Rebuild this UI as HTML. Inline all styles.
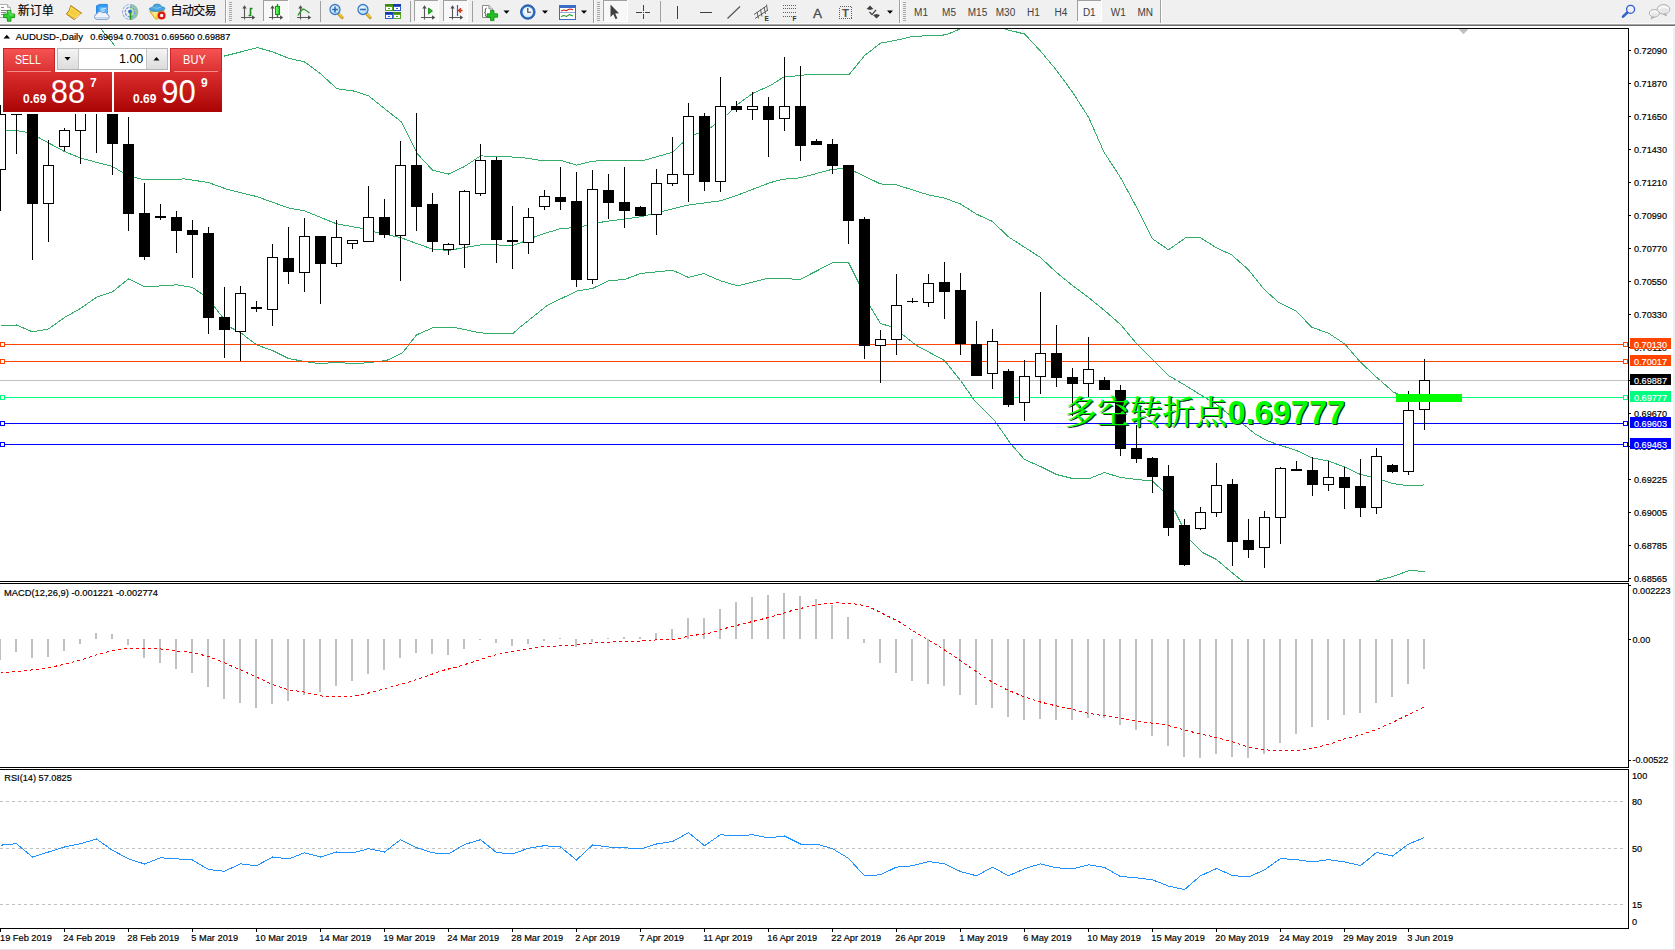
<!DOCTYPE html>
<html lang="zh"><head><meta charset="utf-8"><title>AUDUSD-,Daily</title>
<style>html,body{margin:0;padding:0;background:#fff;overflow:hidden}body{width:1675px;height:950px}svg{display:block}text{font-family:"Liberation Sans", "Noto Sans CJK SC", sans-serif}.s{font-size:9.5px;fill:#000;stroke:#000;stroke-width:0.18px}.w{font-size:9.5px;fill:#fff;stroke:#fff;stroke-width:0.15px}.cr{shape-rendering:crispEdges}</style></head><body>
<svg width="1675" height="950" viewBox="0 0 1675 950">
<defs><linearGradient id="gr" x1="0" y1="0" x2="0" y2="1"><stop offset="0" stop-color="#f75454"/><stop offset="1" stop-color="#d93030"/></linearGradient><linearGradient id="gr2" x1="0" y1="0" x2="0" y2="1"><stop offset="0" stop-color="#dc2e2e"/><stop offset="1" stop-color="#aa0404"/></linearGradient><linearGradient id="gb" x1="0" y1="0" x2="0" y2="1"><stop offset="0" stop-color="#f4f4f4"/><stop offset="1" stop-color="#dcdcdc"/></linearGradient><linearGradient id="gcan" x1="0" y1="0" x2="1" y2="0"><stop offset="0" stop-color="#7dff7d"/><stop offset="1" stop-color="#18d018"/></linearGradient><radialGradient id="glens" cx="0.4" cy="0.35" r="0.7"><stop offset="0" stop-color="#f4fbff"/><stop offset="1" stop-color="#a8d4f4"/></radialGradient><radialGradient id="gclk" cx="0.5" cy="0.4" r="0.6"><stop offset="0" stop-color="#ffffff"/><stop offset="1" stop-color="#d8e8f8"/></radialGradient></defs>
<rect width="1675" height="950" fill="#fff"/>
<g class="cr" fill="none" stroke-width="1">
<g clip-path="none">
<polyline points="96.5,22.5 100.5,28.5 115.5,46.5 130.5,70.5" stroke="#33ad69" />
<polyline points="216.5,58.0 224.5,56.0 240.5,52.0 257.5,47.6 273.0,52.0 288.5,58.2 304.5,61.9 320.5,73.7 337.0,88.8 353.5,91.0 368.5,95.8 385.0,109.0 401.5,122.0 417.5,154.0 432.5,170.1 448.5,174.0 464.5,166.5 480.5,155.9 497.5,156.5 520.5,157.3 544.5,161.0 560.5,160.3 576.5,165.1 592.5,161.1 614.5,160.5 641.5,161.0 672.5,152.3 684.5,141.0 691.5,134.7 699.5,133.5 710.5,127.9 726.5,115.5 737.5,104.5 752.5,93.5 770.5,85.5 783.5,77.1 794.5,76.1 812.5,74.1 826.5,74.9 848.9,74.9 864.8,55.3 880.7,43.1 896.5,40.2 912.5,36.5 928.5,35.7 945.9,34.9 959.3,29.3 964.5,27.0" stroke="#33ad69" />
<polyline points="999.5,27.0 1005.4,29.3 1024.6,34.0 1040.5,51.1 1056.5,70.3 1072.5,92.1 1088.5,117.2 1104.1,152.3 1120.5,177.5 1136.5,207.2 1152.5,238.8 1168.5,249.8 1185.5,237.8 1200.5,237.8 1216.5,247.8 1231.5,254.8 1248.5,269.8 1264.5,289.8 1278.5,302.2 1296.5,311.2 1311.5,327.2 1328.5,333.2 1344.5,343.8 1360.5,362.2 1376.5,377.2 1393.5,392.2 1408.5,398.5 1424.5,399.5" stroke="#33ad69" />
<polyline points="0.5,130.5 18.5,130.9 27.5,132.5 38.5,137.5 64.5,151.5 80.5,158.1 112.5,166.5 122.5,172.5 134.5,177.5 144.5,179.9 168.5,179.5 184.5,178.9 208.5,182.5 226.5,189.1 256.5,196.5 288.5,207.9 304.5,210.9 336.5,223.8 362.5,228.5 378.5,232.9 400.5,237.5 416.5,243.5 432.5,249.1 448.5,250.5 464.5,247.5 480.5,244.9 496.5,244.9 512.5,245.5 520.5,242.8 537.5,235.8 560.5,228.5 577.5,227.5 603.5,221.8 640.5,216.8 667.5,210.2 687.5,205.2 720.5,200.8 737.5,195.2 770.5,182.5 783.5,179.2 800.5,177.8 832.5,169.2 848.5,168.5 854.5,171.5 880.5,183.9 896.5,184.9 928.5,194.9 944.5,198.1 960.5,204.0 976.5,214.1 992.5,221.5 1008.5,236.9 1040.5,257.5 1056.5,272.5 1072.5,285.5 1088.5,297.5 1104.5,310.5 1120.5,324.5 1136.5,343.5 1152.5,359.5 1168.5,375.5 1185.5,385.5 1200.5,394.8 1216.5,404.5 1231.5,416.5 1242.5,423.5 1254.5,433.5 1266.5,440.5 1278.5,444.8 1296.5,450.5 1312.5,458.0 1328.5,461.0 1344.5,467.0 1360.5,474.5 1370.5,476.9 1382.5,480.1 1392.5,483.5 1408.5,485.9 1424.5,484.9" stroke="#33ad69" />
<polyline points="0.5,325.8 8.5,325.8 16.5,325.0 32.5,331.9 48.5,328.9 64.5,317.5 80.5,308.5 96.5,297.2 112.5,291.8 128.5,278.9 144.5,286.8 160.5,285.9 176.5,284.8 192.5,287.5 203.5,295.0 214.5,306.9 230.5,327.5 240.5,332.5 256.5,344.9 272.5,350.5 288.5,358.5 304.5,361.5 320.5,363.9 336.5,362.1 352.5,363.9 370.5,362.5 386.5,360.5 402.5,352.9 416.5,334.9 432.5,327.9 456.5,327.9 478.5,332.5 490.5,333.9 512.5,333.9 520.5,326.8 547.5,305.2 577.5,290.8 592.5,288.5 608.5,280.8 624.5,279.5 640.5,273.5 672.5,270.2 688.5,277.5 703.5,273.5 720.5,280.8 737.5,285.8 767.5,278.5 800.5,279.2 832.5,262.8 848.5,262.5 859.5,284.5 870.5,307.0 880.5,323.5 890.5,326.5 902.5,334.5 916.5,345.5 944.5,360.5 960.5,380.5 974.5,400.5 994.5,420.5 1010.5,443.5 1024.5,459.5 1040.5,466.5 1056.5,474.5 1072.5,478.5 1090.5,478.1 1104.5,472.5 1120.5,477.5 1136.5,479.5 1152.5,481.1 1163.5,491.5 1174.5,510.5 1180.5,522.5 1190.5,540.5 1202.5,552.5 1216.5,559.5 1230.5,571.5 1242.5,581.1" stroke="#33ad69" />
<polyline points="1375.5,581.1 1392.5,576.5 1408.5,570.9 1414.5,570.5 1424.5,571.9" stroke="#33ad69" />
</g>
</g>
<rect x="0" y="0" width="1675" height="28" fill="#f0f0f0"/>
<g class="cr">
<rect x="5" y="344" width="1618" height="1" fill="#ff4500"/>
<rect x="0.5" y="342.5" width="4" height="4" fill="#fff" stroke="#ff4500"/>
<rect x="1623.5" y="342.5" width="4" height="4" fill="#fff" stroke="#ff4500"/>
<rect x="5" y="361" width="1618" height="1" fill="#ff4500"/>
<rect x="0.5" y="359.5" width="4" height="4" fill="#fff" stroke="#ff4500"/>
<rect x="1623.5" y="359.5" width="4" height="4" fill="#fff" stroke="#ff4500"/>
<rect x="0" y="380" width="1628" height="1" fill="#c0c0c0"/>
<rect x="5" y="397" width="1618" height="1" fill="#00ff7f"/>
<rect x="0.5" y="395.5" width="4" height="4" fill="#fff" stroke="#00ff7f"/>
<rect x="1623.5" y="395.5" width="4" height="4" fill="#fff" stroke="#00ff7f"/>
<rect x="5" y="423" width="1618" height="1" fill="#0000ff"/>
<rect x="0.5" y="421.5" width="4" height="4" fill="#fff" stroke="#0000ff"/>
<rect x="1623.5" y="421.5" width="4" height="4" fill="#fff" stroke="#0000ff"/>
<rect x="5" y="444" width="1618" height="1" fill="#0000ff"/>
<rect x="0.5" y="442.5" width="4" height="4" fill="#fff" stroke="#0000ff"/>
<rect x="1623.5" y="442.5" width="4" height="4" fill="#fff" stroke="#0000ff"/>
</g>
<g class="cr" fill="#000">
<rect x="0" y="105" width="1" height="106"/>
<rect x="-5" y="114" width="11" height="56"/>
<rect x="-4" y="115" width="9" height="54" fill="#fff"/>
<rect x="16" y="114" width="1" height="40"/>
<rect x="11" y="114" width="11" height="1"/>
<rect x="32" y="90" width="1" height="170"/>
<rect x="27" y="95" width="11" height="109"/>
<rect x="48" y="140" width="1" height="102"/>
<rect x="43" y="165" width="11" height="39"/>
<rect x="44" y="166" width="9" height="37" fill="#fff"/>
<rect x="64" y="128" width="1" height="23"/>
<rect x="59" y="130" width="11" height="17"/>
<rect x="60" y="131" width="9" height="15" fill="#fff"/>
<rect x="80" y="95" width="1" height="69"/>
<rect x="75" y="100" width="11" height="31"/>
<rect x="76" y="101" width="9" height="29" fill="#fff"/>
<rect x="96" y="90" width="1" height="63"/>
<rect x="91" y="95" width="11" height="10"/>
<rect x="112" y="95" width="1" height="80"/>
<rect x="107" y="100" width="11" height="44"/>
<rect x="128" y="117" width="1" height="114"/>
<rect x="123" y="144" width="11" height="70"/>
<rect x="144" y="183" width="1" height="77"/>
<rect x="139" y="213" width="11" height="44"/>
<rect x="160" y="204" width="1" height="16"/>
<rect x="155" y="216" width="11" height="2"/>
<rect x="176" y="211" width="1" height="42"/>
<rect x="171" y="217" width="11" height="14"/>
<rect x="192" y="220" width="1" height="58"/>
<rect x="187" y="230" width="11" height="5"/>
<rect x="208" y="227" width="1" height="107"/>
<rect x="203" y="233" width="11" height="85"/>
<rect x="224" y="287" width="1" height="71"/>
<rect x="219" y="317" width="11" height="13"/>
<rect x="240" y="286" width="1" height="75"/>
<rect x="235" y="293" width="11" height="39"/>
<rect x="236" y="294" width="9" height="37" fill="#fff"/>
<rect x="256" y="301" width="1" height="11"/>
<rect x="251" y="307" width="11" height="2"/>
<rect x="272" y="244" width="1" height="82"/>
<rect x="267" y="257" width="11" height="53"/>
<rect x="268" y="258" width="9" height="51" fill="#fff"/>
<rect x="288" y="227" width="1" height="57"/>
<rect x="283" y="258" width="11" height="14"/>
<rect x="304" y="218" width="1" height="74"/>
<rect x="299" y="236" width="11" height="37"/>
<rect x="300" y="237" width="9" height="35" fill="#fff"/>
<rect x="320" y="236" width="1" height="68"/>
<rect x="315" y="236" width="11" height="28"/>
<rect x="336" y="220" width="1" height="47"/>
<rect x="331" y="237" width="11" height="27"/>
<rect x="332" y="238" width="9" height="25" fill="#fff"/>
<rect x="352" y="240" width="1" height="9"/>
<rect x="347" y="240" width="11" height="4"/>
<rect x="348" y="241" width="9" height="2" fill="#fff"/>
<rect x="368" y="186" width="1" height="56"/>
<rect x="363" y="217" width="11" height="25"/>
<rect x="364" y="218" width="9" height="23" fill="#fff"/>
<rect x="384" y="199" width="1" height="39"/>
<rect x="379" y="217" width="11" height="18"/>
<rect x="400" y="141" width="1" height="140"/>
<rect x="395" y="165" width="11" height="71"/>
<rect x="396" y="166" width="9" height="69" fill="#fff"/>
<rect x="416" y="113" width="1" height="118"/>
<rect x="411" y="165" width="11" height="42"/>
<rect x="432" y="193" width="1" height="59"/>
<rect x="427" y="204" width="11" height="38"/>
<rect x="448" y="243" width="1" height="12"/>
<rect x="443" y="244" width="11" height="6"/>
<rect x="444" y="245" width="9" height="4" fill="#fff"/>
<rect x="464" y="190" width="1" height="78"/>
<rect x="459" y="191" width="11" height="54"/>
<rect x="460" y="192" width="9" height="52" fill="#fff"/>
<rect x="480" y="144" width="1" height="52"/>
<rect x="475" y="160" width="11" height="34"/>
<rect x="476" y="161" width="9" height="32" fill="#fff"/>
<rect x="496" y="157" width="1" height="106"/>
<rect x="491" y="160" width="11" height="80"/>
<rect x="512" y="206" width="1" height="63"/>
<rect x="507" y="240" width="11" height="2"/>
<rect x="528" y="208" width="1" height="46"/>
<rect x="523" y="217" width="11" height="26"/>
<rect x="524" y="218" width="9" height="24" fill="#fff"/>
<rect x="544" y="190" width="1" height="20"/>
<rect x="539" y="196" width="11" height="11"/>
<rect x="540" y="197" width="9" height="9" fill="#fff"/>
<rect x="560" y="167" width="1" height="43"/>
<rect x="555" y="197" width="11" height="5"/>
<rect x="576" y="172" width="1" height="115"/>
<rect x="571" y="201" width="11" height="79"/>
<rect x="592" y="170" width="1" height="114"/>
<rect x="587" y="189" width="11" height="91"/>
<rect x="588" y="190" width="9" height="89" fill="#fff"/>
<rect x="608" y="174" width="1" height="45"/>
<rect x="603" y="190" width="11" height="13"/>
<rect x="624" y="167" width="1" height="61"/>
<rect x="619" y="202" width="11" height="9"/>
<rect x="640" y="206" width="1" height="10"/>
<rect x="635" y="207" width="11" height="9"/>
<rect x="656" y="169" width="1" height="66"/>
<rect x="651" y="183" width="11" height="32"/>
<rect x="652" y="184" width="9" height="30" fill="#fff"/>
<rect x="672" y="137" width="1" height="49"/>
<rect x="667" y="174" width="11" height="10"/>
<rect x="668" y="175" width="9" height="8" fill="#fff"/>
<rect x="688" y="103" width="1" height="99"/>
<rect x="683" y="116" width="11" height="59"/>
<rect x="684" y="117" width="9" height="57" fill="#fff"/>
<rect x="704" y="113" width="1" height="78"/>
<rect x="699" y="116" width="11" height="66"/>
<rect x="720" y="77" width="1" height="115"/>
<rect x="715" y="106" width="11" height="76"/>
<rect x="716" y="107" width="9" height="74" fill="#fff"/>
<rect x="736" y="101" width="1" height="11"/>
<rect x="731" y="106" width="11" height="4"/>
<rect x="752" y="92" width="1" height="28"/>
<rect x="747" y="106" width="11" height="4"/>
<rect x="748" y="107" width="9" height="2" fill="#fff"/>
<rect x="768" y="97" width="1" height="60"/>
<rect x="763" y="106" width="11" height="14"/>
<rect x="784" y="57" width="1" height="74"/>
<rect x="779" y="106" width="11" height="13"/>
<rect x="780" y="107" width="9" height="11" fill="#fff"/>
<rect x="800" y="66" width="1" height="95"/>
<rect x="795" y="106" width="11" height="40"/>
<rect x="816" y="139" width="1" height="6"/>
<rect x="811" y="141" width="11" height="4"/>
<rect x="832" y="139" width="1" height="35"/>
<rect x="827" y="144" width="11" height="22"/>
<rect x="848" y="165" width="1" height="79"/>
<rect x="843" y="165" width="11" height="56"/>
<rect x="864" y="217" width="1" height="142"/>
<rect x="859" y="219" width="11" height="127"/>
<rect x="880" y="330" width="1" height="53"/>
<rect x="875" y="339" width="11" height="7"/>
<rect x="876" y="340" width="9" height="5" fill="#fff"/>
<rect x="896" y="274" width="1" height="81"/>
<rect x="891" y="305" width="11" height="35"/>
<rect x="892" y="306" width="9" height="33" fill="#fff"/>
<rect x="912" y="298" width="1" height="5"/>
<rect x="907" y="301" width="11" height="1"/>
<rect x="928" y="274" width="1" height="33"/>
<rect x="923" y="283" width="11" height="20"/>
<rect x="924" y="284" width="9" height="18" fill="#fff"/>
<rect x="944" y="262" width="1" height="57"/>
<rect x="939" y="282" width="11" height="10"/>
<rect x="960" y="273" width="1" height="82"/>
<rect x="955" y="290" width="11" height="54"/>
<rect x="976" y="321" width="1" height="55"/>
<rect x="971" y="344" width="11" height="32"/>
<rect x="992" y="329" width="1" height="60"/>
<rect x="987" y="341" width="11" height="33"/>
<rect x="988" y="342" width="9" height="31" fill="#fff"/>
<rect x="1008" y="369" width="1" height="38"/>
<rect x="1003" y="371" width="11" height="34"/>
<rect x="1024" y="360" width="1" height="61"/>
<rect x="1019" y="376" width="11" height="27"/>
<rect x="1020" y="377" width="9" height="25" fill="#fff"/>
<rect x="1040" y="292" width="1" height="102"/>
<rect x="1035" y="353" width="11" height="24"/>
<rect x="1036" y="354" width="9" height="22" fill="#fff"/>
<rect x="1056" y="325" width="1" height="62"/>
<rect x="1051" y="353" width="11" height="25"/>
<rect x="1072" y="368" width="1" height="48"/>
<rect x="1067" y="377" width="11" height="7"/>
<rect x="1088" y="337" width="1" height="60"/>
<rect x="1083" y="369" width="11" height="15"/>
<rect x="1084" y="370" width="9" height="13" fill="#fff"/>
<rect x="1104" y="377" width="1" height="13"/>
<rect x="1099" y="380" width="11" height="10"/>
<rect x="1120" y="385" width="1" height="71"/>
<rect x="1115" y="390" width="11" height="59"/>
<rect x="1136" y="425" width="1" height="38"/>
<rect x="1131" y="448" width="11" height="11"/>
<rect x="1152" y="457" width="1" height="36"/>
<rect x="1147" y="458" width="11" height="19"/>
<rect x="1168" y="465" width="1" height="71"/>
<rect x="1163" y="476" width="11" height="52"/>
<rect x="1184" y="519" width="1" height="47"/>
<rect x="1179" y="525" width="11" height="40"/>
<rect x="1200" y="507" width="1" height="23"/>
<rect x="1195" y="512" width="11" height="17"/>
<rect x="1196" y="513" width="9" height="15" fill="#fff"/>
<rect x="1216" y="463" width="1" height="54"/>
<rect x="1211" y="485" width="11" height="28"/>
<rect x="1212" y="486" width="9" height="26" fill="#fff"/>
<rect x="1232" y="479" width="1" height="87"/>
<rect x="1227" y="484" width="11" height="58"/>
<rect x="1248" y="519" width="1" height="39"/>
<rect x="1243" y="540" width="11" height="10"/>
<rect x="1264" y="511" width="1" height="57"/>
<rect x="1259" y="517" width="11" height="31"/>
<rect x="1260" y="518" width="9" height="29" fill="#fff"/>
<rect x="1280" y="467" width="1" height="77"/>
<rect x="1275" y="468" width="11" height="50"/>
<rect x="1276" y="469" width="9" height="48" fill="#fff"/>
<rect x="1296" y="461" width="1" height="10"/>
<rect x="1291" y="469" width="11" height="2"/>
<rect x="1312" y="457" width="1" height="39"/>
<rect x="1307" y="470" width="11" height="15"/>
<rect x="1328" y="461" width="1" height="30"/>
<rect x="1323" y="477" width="11" height="8"/>
<rect x="1324" y="478" width="9" height="6" fill="#fff"/>
<rect x="1344" y="467" width="1" height="42"/>
<rect x="1339" y="477" width="11" height="11"/>
<rect x="1360" y="459" width="1" height="58"/>
<rect x="1355" y="486" width="11" height="22"/>
<rect x="1376" y="448" width="1" height="66"/>
<rect x="1371" y="456" width="11" height="52"/>
<rect x="1372" y="457" width="9" height="50" fill="#fff"/>
<rect x="1392" y="464" width="1" height="9"/>
<rect x="1387" y="465" width="11" height="7"/>
<rect x="1408" y="391" width="1" height="84"/>
<rect x="1403" y="410" width="11" height="62"/>
<rect x="1404" y="411" width="9" height="60" fill="#fff"/>
<rect x="1424" y="359" width="1" height="71"/>
<rect x="1419" y="380" width="11" height="30"/>
<rect x="1420" y="381" width="9" height="28" fill="#fff"/>
</g>
<g font-family='"Liberation Sans","Noto Serif CJK SC",serif' font-weight="bold" font-size="32.6px">
<text x="1065.8" y="425.1" fill="#12301a" style="font-family:'Liberation Sans','Noto Serif CJK SC',serif"><tspan style="font-weight:500">多空转折点</tspan><tspan style="font-weight:bold">0.69777</tspan></text>
<text x="1064.5" y="423.8" fill="#00ff00" style="font-family:'Liberation Sans','Noto Serif CJK SC',serif"><tspan style="font-weight:500">多空转折点</tspan><tspan style="font-weight:bold">0.69777</tspan></text>
</g>
<rect class="cr" x="1396" y="394" width="66" height="8" fill="#00ff00"/>
<g class="cr" fill="#000">
<rect x="0" y="28" width="1629" height="1"/>
<rect x="1628" y="28" width="1" height="901"/>
<rect x="0" y="928" width="1629" height="1"/>
<rect x="0" y="581" width="1629" height="1"/>
<rect x="0" y="583" width="1629" height="1"/>
<rect x="0" y="767" width="1629" height="1"/>
<rect x="0" y="769" width="1629" height="1"/>
</g>
<rect class="cr" x="0" y="582" width="1675" height="1" fill="#fff"/>
<rect class="cr" x="0" y="768" width="1675" height="1" fill="#fff"/>
<g class="cr" fill="#000">
<rect x="1629" y="50" width="2" height="1"/>
<rect x="1629" y="83" width="2" height="1"/>
<rect x="1629" y="116" width="2" height="1"/>
<rect x="1629" y="149" width="2" height="1"/>
<rect x="1629" y="182" width="2" height="1"/>
<rect x="1629" y="215" width="2" height="1"/>
<rect x="1629" y="248" width="2" height="1"/>
<rect x="1629" y="281" width="2" height="1"/>
<rect x="1629" y="314" width="2" height="1"/>
<rect x="1629" y="347" width="2" height="1"/>
<rect x="1629" y="380" width="2" height="1"/>
<rect x="1629" y="413" width="2" height="1"/>
<rect x="1629" y="446" width="2" height="1"/>
<rect x="1629" y="479" width="2" height="1"/>
<rect x="1629" y="512" width="2" height="1"/>
<rect x="1629" y="545" width="2" height="1"/>
<rect x="1629" y="578" width="2" height="1"/>
</g>
<text class="s" x="1634" y="53.5" textLength="33" lengthAdjust="spacingAndGlyphs">0.72090</text>
<text class="s" x="1634" y="86.5" textLength="33" lengthAdjust="spacingAndGlyphs">0.71870</text>
<text class="s" x="1634" y="119.5" textLength="33" lengthAdjust="spacingAndGlyphs">0.71650</text>
<text class="s" x="1634" y="152.5" textLength="33" lengthAdjust="spacingAndGlyphs">0.71430</text>
<text class="s" x="1634" y="185.5" textLength="33" lengthAdjust="spacingAndGlyphs">0.71210</text>
<text class="s" x="1634" y="218.5" textLength="33" lengthAdjust="spacingAndGlyphs">0.70990</text>
<text class="s" x="1634" y="251.5" textLength="33" lengthAdjust="spacingAndGlyphs">0.70770</text>
<text class="s" x="1634" y="284.5" textLength="33" lengthAdjust="spacingAndGlyphs">0.70550</text>
<text class="s" x="1634" y="317.5" textLength="33" lengthAdjust="spacingAndGlyphs">0.70330</text>
<text class="s" x="1634" y="350.5" textLength="33" lengthAdjust="spacingAndGlyphs">0.70110</text>
<text class="s" x="1634" y="383.5" textLength="33" lengthAdjust="spacingAndGlyphs">0.69890</text>
<text class="s" x="1634" y="416.5" textLength="33" lengthAdjust="spacingAndGlyphs">0.69670</text>
<text class="s" x="1634" y="449.5" textLength="33" lengthAdjust="spacingAndGlyphs">0.69450</text>
<text class="s" x="1634" y="482.5" textLength="33" lengthAdjust="spacingAndGlyphs">0.69225</text>
<text class="s" x="1634" y="515.5" textLength="33" lengthAdjust="spacingAndGlyphs">0.69005</text>
<text class="s" x="1634" y="548.5" textLength="33" lengthAdjust="spacingAndGlyphs">0.68785</text>
<text class="s" x="1634" y="581.5" textLength="33" lengthAdjust="spacingAndGlyphs">0.68565</text>
<rect class="cr" x="1630" y="338" width="41" height="11" fill="#ff4500"/>
<text class="w" x="1634" y="347.5" textLength="33" lengthAdjust="spacingAndGlyphs">0.70130</text>
<rect class="cr" x="1630" y="355" width="41" height="11" fill="#ff4500"/>
<text class="w" x="1634" y="364.5" textLength="33" lengthAdjust="spacingAndGlyphs">0.70017</text>
<rect class="cr" x="1630" y="374" width="41" height="11" fill="#000000"/>
<text class="w" x="1634" y="383.5" textLength="33" lengthAdjust="spacingAndGlyphs">0.69887</text>
<rect class="cr" x="1630" y="391" width="41" height="11" fill="#00ff7f"/>
<text class="w" x="1634" y="400.5" textLength="33" lengthAdjust="spacingAndGlyphs">0.69777</text>
<rect class="cr" x="1630" y="417" width="41" height="11" fill="#0000ff"/>
<text class="w" x="1634" y="426.5" textLength="33" lengthAdjust="spacingAndGlyphs">0.69603</text>
<rect class="cr" x="1630" y="438" width="41" height="11" fill="#0000ff"/>
<text class="w" x="1634" y="447.5" textLength="33" lengthAdjust="spacingAndGlyphs">0.69463</text>
<path d="M3.5 38.5 L6.8 34.8 L10.1 38.5 Z" fill="#000"/>
<text class="s" x="15.7" y="39.6" textLength="67.3" lengthAdjust="spacingAndGlyphs">AUDUSD-,Daily</text>
<text class="s" x="90.3" y="39.6" textLength="140" lengthAdjust="spacingAndGlyphs">0.69694 0.70031 0.69560 0.69887</text>
<path d="M1458.5 29 L1468.5 29 L1463.5 34.2 Z" fill="#c0c0c0"/>
<g class="cr" fill="#c0c0c0">
<rect x="-1" y="639" width="2" height="21"/>
<rect x="15" y="639" width="2" height="13"/>
<rect x="31" y="639" width="2" height="19"/>
<rect x="47" y="639" width="2" height="18"/>
<rect x="63" y="639" width="2" height="12"/>
<rect x="79" y="639" width="2" height="5"/>
<rect x="95" y="633" width="2" height="6"/>
<rect x="111" y="634" width="2" height="5"/>
<rect x="127" y="639" width="2" height="6"/>
<rect x="143" y="639" width="2" height="19"/>
<rect x="159" y="639" width="2" height="24"/>
<rect x="175" y="639" width="2" height="30"/>
<rect x="191" y="639" width="2" height="34"/>
<rect x="207" y="639" width="2" height="48"/>
<rect x="223" y="639" width="2" height="60"/>
<rect x="239" y="639" width="2" height="64"/>
<rect x="255" y="639" width="2" height="69"/>
<rect x="271" y="639" width="2" height="65"/>
<rect x="287" y="639" width="2" height="62"/>
<rect x="303" y="639" width="2" height="56"/>
<rect x="319" y="639" width="2" height="53"/>
<rect x="335" y="639" width="2" height="47"/>
<rect x="351" y="639" width="2" height="42"/>
<rect x="367" y="639" width="2" height="35"/>
<rect x="383" y="639" width="2" height="31"/>
<rect x="399" y="639" width="2" height="19"/>
<rect x="415" y="639" width="2" height="14"/>
<rect x="431" y="639" width="2" height="15"/>
<rect x="447" y="639" width="2" height="16"/>
<rect x="463" y="639" width="2" height="10"/>
<rect x="479" y="639" width="2" height="1"/>
<rect x="495" y="639" width="2" height="4"/>
<rect x="511" y="639" width="2" height="7"/>
<rect x="527" y="639" width="2" height="5"/>
<rect x="543" y="639" width="2" height="2"/>
<rect x="559" y="638" width="2" height="1"/>
<rect x="575" y="639" width="2" height="8"/>
<rect x="591" y="639" width="2" height="3"/>
<rect x="607" y="638" width="2" height="1"/>
<rect x="623" y="637" width="2" height="2"/>
<rect x="639" y="637" width="2" height="2"/>
<rect x="655" y="633" width="2" height="6"/>
<rect x="671" y="629" width="2" height="10"/>
<rect x="687" y="618" width="2" height="21"/>
<rect x="703" y="618" width="2" height="21"/>
<rect x="719" y="609" width="2" height="30"/>
<rect x="735" y="602" width="2" height="37"/>
<rect x="751" y="597" width="2" height="42"/>
<rect x="767" y="595" width="2" height="44"/>
<rect x="783" y="593" width="2" height="46"/>
<rect x="799" y="596" width="2" height="43"/>
<rect x="815" y="599" width="2" height="40"/>
<rect x="831" y="605" width="2" height="34"/>
<rect x="847" y="617" width="2" height="22"/>
<rect x="863" y="639" width="2" height="4"/>
<rect x="879" y="639" width="2" height="24"/>
<rect x="895" y="639" width="2" height="34"/>
<rect x="911" y="639" width="2" height="42"/>
<rect x="927" y="639" width="2" height="45"/>
<rect x="943" y="639" width="2" height="47"/>
<rect x="959" y="639" width="2" height="56"/>
<rect x="975" y="639" width="2" height="66"/>
<rect x="991" y="639" width="2" height="69"/>
<rect x="1007" y="639" width="2" height="78"/>
<rect x="1023" y="639" width="2" height="81"/>
<rect x="1039" y="639" width="2" height="80"/>
<rect x="1055" y="639" width="2" height="81"/>
<rect x="1071" y="639" width="2" height="81"/>
<rect x="1087" y="639" width="2" height="79"/>
<rect x="1103" y="639" width="2" height="79"/>
<rect x="1119" y="639" width="2" height="86"/>
<rect x="1135" y="639" width="2" height="91"/>
<rect x="1151" y="639" width="2" height="97"/>
<rect x="1167" y="639" width="2" height="107"/>
<rect x="1183" y="639" width="2" height="118"/>
<rect x="1199" y="639" width="2" height="119"/>
<rect x="1215" y="639" width="2" height="115"/>
<rect x="1231" y="639" width="2" height="118"/>
<rect x="1247" y="639" width="2" height="119"/>
<rect x="1263" y="639" width="2" height="115"/>
<rect x="1279" y="639" width="2" height="104"/>
<rect x="1295" y="639" width="2" height="95"/>
<rect x="1311" y="639" width="2" height="88"/>
<rect x="1327" y="639" width="2" height="81"/>
<rect x="1343" y="639" width="2" height="76"/>
<rect x="1359" y="639" width="2" height="74"/>
<rect x="1375" y="639" width="2" height="64"/>
<rect x="1391" y="639" width="2" height="58"/>
<rect x="1407" y="639" width="2" height="45"/>
<rect x="1423" y="639" width="2" height="30"/>
</g>
<g class="cr" fill="none">
<polyline points="0.5,673.1 16.5,671.5 32.5,669.9 48.5,667.9 64.5,664.1 80.5,660.1 96.5,654.9 112.5,650.5 128.5,648.1 144.5,648.1 160.5,648.9 176.5,650.9 192.5,652.5 208.5,656.5 224.5,662.9 240.5,669.9 256.5,677.1 272.5,684.5 288.5,689.9 304.5,692.1 320.5,695.9 336.5,696.9 346.5,696.9 362.5,694.5 378.5,690.5 394.5,685.9 410.5,681.5 426.5,676.1 442.5,670.5 458.5,666.5 474.5,661.5 490.5,656.1 506.5,652.5 522.5,649.9 538.5,647.1 554.5,646.1 570.5,645.5 586.5,643.5 602.5,642.1 618.5,641.9 634.5,641.9 650.5,640.1 660.5,639.9 676.5,638.9 692.5,635.5 708.5,633.5 724.5,628.5 740.5,624.5 756.5,620.5 772.5,616.5 788.5,611.5 804.5,607.5 820.5,604.1 836.5,602.9 852.5,603.5 868.5,606.5 884.5,614.5 900.5,622.5 916.5,633.1 932.5,642.5 948.5,652.5 964.5,663.5 980.5,674.5 990.5,681.1 1006.5,689.5 1022.5,696.1 1038.5,701.5 1054.5,705.5 1070.5,708.9 1086.5,712.9 1102.5,715.5 1118.5,717.5 1134.5,720.9 1150.5,722.9 1166.5,724.9 1182.5,729.5 1198.5,733.5 1214.5,737.1 1230.5,741.1 1246.5,746.5 1262.5,749.5 1278.5,750.9 1294.5,750.9 1310.5,748.5 1328.5,744.5 1344.5,738.8 1360.5,735.0 1376.5,729.4 1392.5,722.5 1408.5,714.5 1424.5,707.0" stroke="#ff0000" stroke-dasharray="3,3"/>
</g>
<text class="s" x="4" y="596" textLength="154.0" lengthAdjust="spacingAndGlyphs">MACD(12,26,9) -0.001221 -0.002774</text>
<g class="cr" fill="#000"><rect x="1629" y="585" width="2" height="1"/><rect x="1629" y="639" width="2" height="1"/><rect x="1629" y="760" width="2" height="1"/></g>
<text class="s" x="1632.5" y="594" textLength="38.0" lengthAdjust="spacingAndGlyphs">0.002223</text>
<text class="s" x="1632.5" y="643" textLength="17.7" lengthAdjust="spacingAndGlyphs">0.00</text>
<text class="s" x="1632.5" y="763" textLength="35.9" lengthAdjust="spacingAndGlyphs">-0.00522</text>
<g class="cr">
<line x1="0" y1="801.5" x2="1626" y2="801.5" stroke="#c0c0c0" stroke-dasharray="3,3"/>
<line x1="0" y1="848.5" x2="1626" y2="848.5" stroke="#c0c0c0" stroke-dasharray="3,3"/>
<line x1="0" y1="904.5" x2="1626" y2="904.5" stroke="#c0c0c0" stroke-dasharray="3,3"/>
</g>
<g class="cr" fill="none">
<polyline points="0.5,845.2 16.5,843.7 32.5,857.0 48.5,852.0 64.5,847.0 80.5,843.7 96.5,839.0 112.5,850.3 128.5,858.8 144.5,864.0 160.5,857.8 176.5,858.8 192.5,860.0 208.5,869.5 224.5,871.3 240.5,863.8 256.5,865.8 272.5,857.0 288.5,859.0 304.5,852.8 320.5,857.0 336.5,852.0 352.5,853.0 368.5,848.7 384.5,852.0 400.5,839.7 416.5,847.7 432.5,852.8 448.5,854.0 464.5,844.5 480.5,839.7 496.5,852.5 512.5,854.0 528.5,848.2 544.5,845.7 560.5,847.0 576.5,860.0 592.5,845.0 608.5,847.0 624.5,847.7 640.5,849.0 656.5,844.0 672.5,841.5 688.5,832.7 704.5,845.7 720.5,834.7 736.5,836.0 752.5,834.7 768.5,838.0 784.5,836.0 800.5,844.0 816.5,844.0 832.5,848.7 848.5,858.3 864.5,875.8 880.5,874.8 896.5,867.1 912.5,865.8 928.5,861.5 944.5,863.8 960.5,871.5 976.5,875.8 992.5,867.1 1008.5,875.8 1024.5,868.8 1040.5,863.8 1056.5,867.8 1072.5,868.8 1088.5,864.8 1104.5,867.5 1120.5,876.5 1136.5,877.8 1152.5,879.8 1168.5,886.1 1184.5,889.6 1200.5,875.8 1216.5,868.5 1232.5,875.5 1248.5,877.0 1264.5,869.9 1280.5,858.5 1296.5,859.7 1312.5,861.9 1328.5,859.7 1344.5,861.9 1360.5,865.6 1376.5,852.5 1392.5,856.0 1408.5,844.1 1424.5,837.5" stroke="#1e90ff" />
</g>
<text class="s" x="4.3" y="781" textLength="67.5" lengthAdjust="spacingAndGlyphs">RSI(14) 57.0825</text>
<text class="s" x="1632" y="778.6" textLength="15.2" lengthAdjust="spacingAndGlyphs">100</text>
<text class="s" x="1632" y="804.6" textLength="10.1" lengthAdjust="spacingAndGlyphs">80</text>
<text class="s" x="1632" y="851.6" textLength="10.1" lengthAdjust="spacingAndGlyphs">50</text>
<text class="s" x="1632" y="907.6" textLength="10.1" lengthAdjust="spacingAndGlyphs">15</text>
<text class="s" x="1632" y="924.6" textLength="5.1" lengthAdjust="spacingAndGlyphs">0</text>
<g class="cr" fill="#000">
<rect x="0" y="929" width="1" height="3"/>
<rect x="64" y="929" width="1" height="3"/>
<rect x="128" y="929" width="1" height="3"/>
<rect x="192" y="929" width="1" height="3"/>
<rect x="256" y="929" width="1" height="3"/>
<rect x="320" y="929" width="1" height="3"/>
<rect x="384" y="929" width="1" height="3"/>
<rect x="448" y="929" width="1" height="3"/>
<rect x="512" y="929" width="1" height="3"/>
<rect x="576" y="929" width="1" height="3"/>
<rect x="640" y="929" width="1" height="3"/>
<rect x="704" y="929" width="1" height="3"/>
<rect x="768" y="929" width="1" height="3"/>
<rect x="832" y="929" width="1" height="3"/>
<rect x="896" y="929" width="1" height="3"/>
<rect x="960" y="929" width="1" height="3"/>
<rect x="1024" y="929" width="1" height="3"/>
<rect x="1088" y="929" width="1" height="3"/>
<rect x="1152" y="929" width="1" height="3"/>
<rect x="1216" y="929" width="1" height="3"/>
<rect x="1280" y="929" width="1" height="3"/>
<rect x="1344" y="929" width="1" height="3"/>
<rect x="1408" y="929" width="1" height="3"/>
</g>
<text class="s" x="0" y="941" textLength="51.9" lengthAdjust="spacingAndGlyphs">19 Feb 2019</text>
<text class="s" x="63.3" y="941" textLength="51.9" lengthAdjust="spacingAndGlyphs">24 Feb 2019</text>
<text class="s" x="127.3" y="941" textLength="51.9" lengthAdjust="spacingAndGlyphs">28 Feb 2019</text>
<text class="s" x="191.3" y="941" textLength="46.8" lengthAdjust="spacingAndGlyphs">5 Mar 2019</text>
<text class="s" x="255.3" y="941" textLength="51.9" lengthAdjust="spacingAndGlyphs">10 Mar 2019</text>
<text class="s" x="319.3" y="941" textLength="51.9" lengthAdjust="spacingAndGlyphs">14 Mar 2019</text>
<text class="s" x="383.3" y="941" textLength="51.9" lengthAdjust="spacingAndGlyphs">19 Mar 2019</text>
<text class="s" x="447.3" y="941" textLength="51.9" lengthAdjust="spacingAndGlyphs">24 Mar 2019</text>
<text class="s" x="511.3" y="941" textLength="51.9" lengthAdjust="spacingAndGlyphs">28 Mar 2019</text>
<text class="s" x="575.3" y="941" textLength="44.7" lengthAdjust="spacingAndGlyphs">2 Apr 2019</text>
<text class="s" x="639.3" y="941" textLength="44.7" lengthAdjust="spacingAndGlyphs">7 Apr 2019</text>
<text class="s" x="703.3" y="941" textLength="49.2" lengthAdjust="spacingAndGlyphs">11 Apr 2019</text>
<text class="s" x="767.3" y="941" textLength="49.9" lengthAdjust="spacingAndGlyphs">16 Apr 2019</text>
<text class="s" x="831.3" y="941" textLength="49.9" lengthAdjust="spacingAndGlyphs">22 Apr 2019</text>
<text class="s" x="895.3" y="941" textLength="49.9" lengthAdjust="spacingAndGlyphs">26 Apr 2019</text>
<text class="s" x="959.3" y="941" textLength="48.3" lengthAdjust="spacingAndGlyphs">1 May 2019</text>
<text class="s" x="1023.3" y="941" textLength="48.3" lengthAdjust="spacingAndGlyphs">6 May 2019</text>
<text class="s" x="1087.3" y="941" textLength="53.5" lengthAdjust="spacingAndGlyphs">10 May 2019</text>
<text class="s" x="1151.3" y="941" textLength="53.5" lengthAdjust="spacingAndGlyphs">15 May 2019</text>
<text class="s" x="1215.3" y="941" textLength="53.5" lengthAdjust="spacingAndGlyphs">20 May 2019</text>
<text class="s" x="1279.3" y="941" textLength="53.5" lengthAdjust="spacingAndGlyphs">24 May 2019</text>
<text class="s" x="1343.3" y="941" textLength="53.5" lengthAdjust="spacingAndGlyphs">29 May 2019</text>
<text class="s" x="1407.3" y="941" textLength="45.8" lengthAdjust="spacingAndGlyphs">3 Jun 2019</text>
<rect x="1673" y="28" width="2" height="922" fill="#f0f0f0"/>
<rect x="0" y="949" width="1675" height="1" fill="#e4e4e4"/>
<g id="oneclick">
<rect class="cr" x="1" y="46" width="223" height="68" fill="#fff"/>
<rect class="cr" x="3" y="48" width="219" height="25" fill="#fff"/>
<rect class="cr" x="3" y="48" width="52" height="25" fill="url(#gr)"/>
<rect class="cr" x="170" y="48" width="52" height="25" fill="url(#gr)"/>
<rect class="cr" x="3" y="72" width="109" height="40" fill="url(#gr2)"/>
<rect class="cr" x="114" y="72" width="108" height="40" fill="url(#gr2)"/>
<rect class="cr" x="112" y="72" width="2" height="40" fill="#fff"/>
<path class="cr" d="M3.5 72 V48.5 H54.5 V72 M170.5 72 V48.5 H221.5 V72" fill="none" stroke="#c62424" stroke-width="1"/>
<rect class="cr" x="7" y="71" width="44" height="1" fill="#f78c8c"/>
<rect class="cr" x="174" y="71" width="44" height="1" fill="#f78c8c"/>
<rect class="cr" x="57.5" y="48.5" width="110" height="21" fill="#fff" stroke="#b4b4b4"/>
<rect class="cr" x="58" y="49" width="20" height="20" fill="url(#gb)"/>
<rect class="cr" x="146" y="49" width="21" height="20" fill="url(#gb)"/>
<rect class="cr" x="78" y="49" width="1" height="20" fill="#c4c4c4"/>
<rect class="cr" x="146" y="49" width="1" height="20" fill="#c4c4c4"/>
<path d="M64.5 57 L70.5 57 L67.5 60.5 Z" fill="#000"/>
<path d="M153.5 60.5 L159.5 60.5 L156.5 57 Z" fill="#000"/>
<text x="143.3" y="63.3" text-anchor="end" style="font-size:12.5px;fill:#000">1.00</text>
<text x="15" y="63.7" style="font-size:12px;fill:#fff" textLength="25.8" lengthAdjust="spacingAndGlyphs">SELL</text>
<text x="183" y="63.7" style="font-size:12px;fill:#fff" textLength="22.8" lengthAdjust="spacingAndGlyphs">BUY</text>
<text x="23" y="102.5" style="font-size:12px;font-weight:bold;fill:#fff">0.69</text>
<text x="50.8" y="103" style="font-size:32.5px;fill:#fff" textLength="34.3" lengthAdjust="spacingAndGlyphs">88</text>
<text x="90" y="86.6" style="font-size:12px;font-weight:bold;fill:#fff">7</text>
<text x="133" y="102.5" style="font-size:12px;font-weight:bold;fill:#fff">0.69</text>
<text x="161.3" y="103" style="font-size:32.5px;fill:#fff" textLength="34.5" lengthAdjust="spacingAndGlyphs">90</text>
<text x="201" y="86.6" style="font-size:12px;font-weight:bold;fill:#fff">9</text>
</g>

<g id="toolbar">
<rect class="cr" x="0" y="0" width="1675" height="23" fill="#f0f0f0"/>
<rect class="cr" x="0" y="23" width="1675" height="1" fill="#fbfbfb"/>
<rect class="cr" x="0" y="24" width="1675" height="1" fill="#a6a6a6"/>
<rect class="cr" x="0" y="25" width="1675" height="1" fill="#6e6e6e"/>
<rect class="cr" x="0" y="26" width="1675" height="2" fill="#fff"/>
<g><path d="M-0.5 4.5 H7.5 L10.5 7.5 V17.5 H-0.5 Z" fill="#fdfdfd" stroke="#b0b0b0"/><path d="M7.5 4.5 V7.5 H10.5" fill="#e4e4e4" stroke="#b0b0b0"/><path d="M1 7.5 H4 M1 10.5 H8 M1 12.5 H6 M1 14.5 H4" stroke="#8c8c8c" stroke-width="1"/><path d="M7.3 10.4 H10.9 V14 H14.6 V17.6 H10.9 V21.2 H7.3 V17.6 H3.6 V14 H7.3 Z" fill="#2fd02f" stroke="#109010" stroke-width="0.9"/><path d="M8.2 11.4 H10 V14.9 H13.6" fill="none" stroke="#8af08a" stroke-width="0.8"/></g>
<text x="17.8" y="15.2" style="font-size:12px;fill:#000;stroke:#000;stroke-width:0.15px">新订单</text>
<g><path d="M66.4 14 Q69.5 11.5 70.8 5.6 L81.7 13.2 L74.2 19.6 Z" fill="#eebc2c" stroke="#a86c10" stroke-width="0.9"/><path d="M70.8 6.6 L80.2 13.2 L74.2 17.6 L67.6 13.8 Q70 11 70.8 6.6 Z" fill="#f8dc58"/><path d="M71.6 8.6 L78.6 13.3 L74.4 16.2 L69.6 13.4 Z" fill="#f4cc3c"/><path d="M74.4 18.6 L81.2 13.9" fill="none" stroke="#fff2c0" stroke-width="0.9"/></g>
<g><path d="M96.5 5.8 L99.5 4.4 H107.3 V13.2 H96.5 Z" fill="#2f9af4" stroke="#1878d8" stroke-width="0.8"/><path d="M99.3 6.8 H107 V14 H99.3 Z" fill="#5cb6fa"/><path d="M100.6 9.4 L105.6 8.4 M100.6 11.4 L104.6 10.8" stroke="#e4f4ff" stroke-width="1"/><path d="M96.6 19.3 a2.7 2.7 0 0 1 0.200 -5.300 a3.300 3.300 0 0 1 5.800 -1.200 a3 3 0 0 1 4.600 1.600 a2.500 2.500 0 0 1 0.100 4.900 Z" fill="#eef4fb" stroke="#6a8cc4" stroke-width="0.9"/><path d="M96.2 17.6 H108" stroke="#c4d4ea" stroke-width="1.2"/></g>
<g fill="none"><path d="M130 12 L130 4 A8 8 0 0 1 130.6 20 Z" fill="#7cc07c" stroke="none" opacity="0.85"/><path d="M130 12 L130 6.6 A5.4 5.4 0 0 1 130.400 17.4 Z" fill="#b4dcb4" stroke="none"/><circle cx="130" cy="12" r="7.5" stroke="#9cb4e0" stroke-width="1.1" stroke-dasharray="3.2,1.200"/><circle cx="130" cy="12" r="4.8" stroke="#6c94dc" stroke-width="1.2" stroke-dasharray="2.600,1"/><circle cx="130" cy="11.6" r="1.9" fill="#2a64d4" stroke="none"/><path d="M130.4 12 V19.8" stroke="#1ea01e" stroke-width="1.6"/></g>
<g><path d="M149.6 11.4 L164.4 10.8 L162 14 L157 19.4 L155 18.6 Z" fill="#f6d23c" stroke="#c8981c" stroke-width="0.7"/><path d="M151.5 12 L158 11.600 L155.5 17.5 Z" fill="#fbe88a"/><path d="M149.3 9.4 Q149 7.600 152.600 7.400 Q153.400 3.800 157.300 4 Q161 4.200 161.500 6.800 Q165.200 7 164.900 8.800 Q163.800 11.200 157 11.400 Q150.300 11.400 149.300 9.400 Z" fill="#4aa6e0" stroke="#2a7cbc" stroke-width="0.7"/><path d="M153.400 7.600 Q157 9.200 161 7.200" fill="none" stroke="#8cd0f4" stroke-width="0.9"/><circle cx="161.6" cy="15.4" r="4" fill="#e01c10"/><rect x="160.200" y="14" width="2.900" height="2.900" fill="#fff"/></g>
<text x="170.6" y="15.2" style="font-size:12px;fill:#000;stroke:#000;stroke-width:0.15px" textLength="46" lengthAdjust="spacing">自动交易</text>
<rect class="cr" x="225" y="0" width="1" height="23" fill="#a0a0a0"/><rect class="cr" x="226" y="0" width="1" height="23" fill="#fff"/>
<rect class="cr" x="229" y="2" width="3" height="1" fill="#a8a8a8"/>
<rect class="cr" x="229" y="4" width="3" height="1" fill="#a8a8a8"/>
<rect class="cr" x="229" y="6" width="3" height="1" fill="#a8a8a8"/>
<rect class="cr" x="229" y="8" width="3" height="1" fill="#a8a8a8"/>
<rect class="cr" x="229" y="10" width="3" height="1" fill="#a8a8a8"/>
<rect class="cr" x="229" y="12" width="3" height="1" fill="#a8a8a8"/>
<rect class="cr" x="229" y="14" width="3" height="1" fill="#a8a8a8"/>
<rect class="cr" x="229" y="16" width="3" height="1" fill="#a8a8a8"/>
<rect class="cr" x="229" y="18" width="3" height="1" fill="#a8a8a8"/>
<rect class="cr" x="229" y="20" width="3" height="1" fill="#a8a8a8"/>
<g fill="none" stroke="#585858" stroke-width="1.1"><path d="M244.5 19.5 V6.5 M241.0 17.5 H254.0"/></g>
<path d="M242.3 8.5 L244.5 5.2 L246.7 8.5 Z M252.0 15.3 L255.3 17.5 L252.0 19.7 Z" fill="#505050"/>
<path d="M248.5 15.5 H250.5 V8.5 H252.5" fill="none" stroke="#1a8a1a" stroke-width="1.6"/>
<rect class="cr" x="263" y="0" width="26" height="22" fill="#f8f8f8"/>
<rect class="cr" x="263" y="0" width="26" height="1" fill="#a0a0a0"/>
<rect class="cr" x="263" y="0" width="1" height="22" fill="#a0a0a0"/>
<rect class="cr" x="288" y="0" width="1" height="22" fill="#fff"/>
<rect class="cr" x="263" y="21" width="26" height="1" fill="#fff"/>
<g fill="none" stroke="#585858" stroke-width="1.1"><path d="M272.5 19.5 V6.5 M269.0 17.5 H282.0"/></g>
<path d="M270.3 8.5 L272.5 5.2 L274.7 8.5 Z M280.0 15.3 L283.3 17.5 L280.0 19.7 Z" fill="#505050"/>
<path d="M277.5 4 V17" stroke="#0a9a0a" stroke-width="1.4"/><rect x="275.5" y="6.5" width="4" height="8" fill="url(#gcan)" stroke="#0a9a0a" stroke-width="1"/>
<g fill="none" stroke="#585858" stroke-width="1.1"><path d="M300.5 19.5 V6.5 M297.0 17.5 H310.0"/></g>
<path d="M298.3 8.5 L300.5 5.2 L302.7 8.5 Z M308.0 15.3 L311.3 17.5 L308.0 19.7 Z" fill="#505050"/>
<path d="M298 15.5 Q302 8 304.5 9.5 Q307 11 309.5 13" fill="none" stroke="#2a9a2a" stroke-width="1.4"/>
<rect class="cr" x="320" y="1" width="1" height="21" fill="#a0a0a0"/>
<path d="M338.2 13.4 L342.2 17.6" stroke="#c8a020" stroke-width="3" stroke-linecap="round"/>
<path d="M338.4 13.2 L342.2 17.2" stroke="#f0d060" stroke-width="1.2" stroke-linecap="round"/>
<circle cx="335.0" cy="9.5" r="5" fill="url(#glens)" stroke="#3a7cc8" stroke-width="1.3"/>
<path d="M332.1 9.5 H337.9 M335.0 6.6 V12.4" stroke="#2a6cb0" stroke-width="1.6"/>
<path d="M366.2 13.4 L370.2 17.6" stroke="#c8a020" stroke-width="3" stroke-linecap="round"/>
<path d="M366.4 13.2 L370.2 17.2" stroke="#f0d060" stroke-width="1.2" stroke-linecap="round"/>
<circle cx="363.0" cy="9.5" r="5" fill="url(#glens)" stroke="#3a7cc8" stroke-width="1.3"/>
<path d="M360.1 9.5 H365.9" stroke="#2a6cb0" stroke-width="1.6"/>
<rect class="cr" x="385" y="4" width="8" height="7" fill="#58a828"/><rect class="cr" x="385" y="4" width="8" height="2" fill="#3c8c14"/>
<rect class="cr" x="386" y="7" width="6" height="3" fill="#fff"/><rect class="cr" x="388" y="8" width="2" height="1" fill="#58a828"/>
<rect class="cr" x="393" y="4" width="8" height="7" fill="#2a5cd0"/><rect class="cr" x="393" y="4" width="8" height="2" fill="#1a3ca8"/>
<rect class="cr" x="394" y="7" width="6" height="3" fill="#fff"/><rect class="cr" x="396" y="8" width="2" height="1" fill="#2a5cd0"/>
<rect class="cr" x="385" y="12" width="8" height="7" fill="#2a5cd0"/><rect class="cr" x="385" y="12" width="8" height="2" fill="#1a3ca8"/>
<rect class="cr" x="386" y="15" width="6" height="3" fill="#fff"/><rect class="cr" x="388" y="16" width="2" height="1" fill="#2a5cd0"/>
<rect class="cr" x="393" y="12" width="8" height="7" fill="#58a828"/><rect class="cr" x="393" y="12" width="8" height="2" fill="#3c8c14"/>
<rect class="cr" x="394" y="15" width="6" height="3" fill="#fff"/><rect class="cr" x="396" y="16" width="2" height="1" fill="#58a828"/>
<rect class="cr" x="410" y="1" width="1" height="21" fill="#a0a0a0"/>
<rect class="cr" x="414" y="0" width="25" height="22" fill="#f8f8f8"/>
<rect class="cr" x="414" y="0" width="25" height="1" fill="#a0a0a0"/>
<rect class="cr" x="414" y="0" width="1" height="22" fill="#a0a0a0"/>
<rect class="cr" x="438" y="0" width="1" height="22" fill="#fff"/>
<rect class="cr" x="414" y="21" width="25" height="1" fill="#fff"/>
<g fill="none" stroke="#585858" stroke-width="1.1"><path d="M424.5 19.5 V6.5 M421.0 17.5 H434.0"/></g>
<path d="M422.3 8.5 L424.5 5.2 L426.7 8.5 Z M432.0 15.3 L435.3 17.5 L432.0 19.7 Z" fill="#505050"/>
<path d="M428.5 8 L432.5 11 L428.5 14 Z" fill="#2ab02a" stroke="#0a8a0a" stroke-width="0.8"/>
<rect class="cr" x="443" y="0" width="25" height="22" fill="#f8f8f8"/>
<rect class="cr" x="443" y="0" width="25" height="1" fill="#a0a0a0"/>
<rect class="cr" x="443" y="0" width="1" height="22" fill="#a0a0a0"/>
<rect class="cr" x="467" y="0" width="1" height="22" fill="#fff"/>
<rect class="cr" x="443" y="21" width="25" height="1" fill="#fff"/>
<g fill="none" stroke="#585858" stroke-width="1.1"><path d="M452.5 19.5 V6.5 M449.0 17.5 H462.0"/></g>
<path d="M450.3 8.5 L452.5 5.2 L454.7 8.5 Z M460.0 15.3 L463.3 17.5 L460.0 19.7 Z" fill="#505050"/>
<path d="M457.5 5 V16" stroke="#2a62c0" stroke-width="1.2"/><path d="M462.5 10.5 H458.8 M461 8.2 L458.6 10.5 L461 12.8" fill="none" stroke="#d03010" stroke-width="1.3"/>
<rect class="cr" x="472" y="1" width="1" height="21" fill="#a0a0a0"/>
<g><path d="M482.5 5.5 H489 L492.5 9 V17.5 H482.5 Z" fill="#fff" stroke="#8a8a8a"/><path d="M489 5.5 V9 H492.5" fill="#e8e8e8" stroke="#8a8a8a"/><path d="M486.8 8 Q484.6 8 485.4 11 Q485.8 12.5 484.4 12.5 Q485.8 12.5 485.4 14.5 Q484.8 16.6 486.8 16.6" fill="none" stroke="#505050" stroke-width="0.9"/><path d="M490.5 10.5 H494 V13.8 H497.6 V17.2 H494 V20.6 H490.5 V17.2 H487 V13.8 H490.5 Z" fill="#22c022" stroke="#0a8a0a" stroke-width="0.8"/></g>
<path d="M503.5 10.5 L509.5 10.5 L506.5 13.8 Z" fill="#000"/>
<g><circle cx="527.8" cy="12" r="7.3" fill="#2a6cc8" stroke="#1a4c9c" stroke-width="0.8"/><circle cx="527.8" cy="12" r="5.3" fill="url(#gclk)"/><path d="M527.8 8 V12.3 H530.8" fill="none" stroke="#303030" stroke-width="1.1"/></g>
<path d="M542.0 10.5 L548.0 10.5 L545.0 13.8 Z" fill="#000"/>
<g><rect class="cr" x="559" y="5" width="16" height="14" fill="#fff" stroke="#3a6cc8" stroke-width="1"/><rect class="cr" x="559" y="5" width="16" height="3" fill="#3a6cc8"/><path d="M560 12.5 H575" stroke="#7a9cd8" stroke-width="0.8"/><path d="M561 11 L564 10 L566.5 10.6 L569.5 9 L573 9.6" fill="none" stroke="#c82a10" stroke-width="1.1"/><path d="M561 16.6 L564 15.6 L566.5 16.4 L569.5 14.6 L573 16" fill="none" stroke="#1a9a1a" stroke-width="1.1"/></g>
<path d="M581.0 10.5 L587.0 10.5 L584.0 13.8 Z" fill="#000"/>
<rect class="cr" x="593" y="0" width="1" height="23" fill="#a0a0a0"/><rect class="cr" x="594" y="0" width="1" height="23" fill="#fff"/>
<rect class="cr" x="597" y="2" width="3" height="1" fill="#a8a8a8"/>
<rect class="cr" x="597" y="4" width="3" height="1" fill="#a8a8a8"/>
<rect class="cr" x="597" y="6" width="3" height="1" fill="#a8a8a8"/>
<rect class="cr" x="597" y="8" width="3" height="1" fill="#a8a8a8"/>
<rect class="cr" x="597" y="10" width="3" height="1" fill="#a8a8a8"/>
<rect class="cr" x="597" y="12" width="3" height="1" fill="#a8a8a8"/>
<rect class="cr" x="597" y="14" width="3" height="1" fill="#a8a8a8"/>
<rect class="cr" x="597" y="16" width="3" height="1" fill="#a8a8a8"/>
<rect class="cr" x="597" y="18" width="3" height="1" fill="#a8a8a8"/>
<rect class="cr" x="597" y="20" width="3" height="1" fill="#a8a8a8"/>
<rect class="cr" x="603" y="0" width="25" height="22" fill="#f8f8f8"/>
<rect class="cr" x="603" y="0" width="25" height="1" fill="#a0a0a0"/>
<rect class="cr" x="603" y="0" width="1" height="22" fill="#a0a0a0"/>
<rect class="cr" x="627" y="0" width="1" height="22" fill="#fff"/>
<rect class="cr" x="603" y="21" width="25" height="1" fill="#fff"/>
<path d="M610.5 4.5 V17 L613.3 14.3 L615.6 19.2 L617.4 18.3 L615.2 13.6 L619 13.2 Z" fill="#404040"/>
<path d="M643.5 5 V19 M636 12.5 H650" stroke="#404040" stroke-width="1" class="cr"/><rect class="cr" x="642" y="11" width="3" height="3" fill="#f0f0f0"/><rect class="cr" x="643" y="12" width="1" height="1" fill="#404040"/>
<rect class="cr" x="660" y="1" width="1" height="21" fill="#a0a0a0"/>
<rect class="cr" x="677" y="6" width="1" height="13" fill="#404040"/>
<rect class="cr" x="700" y="12" width="12" height="1" fill="#404040"/>
<path d="M727.5 18.5 L740 6.5" stroke="#505050" stroke-width="1.1"/>
<g fill="none" stroke="#505050" stroke-width="0.9"><path d="M754 14.5 L766.5 6 M755 18.5 L768 10 M757 12 L758.5 18.5 M760.5 9.5 L762 16.5 M764 7 L765.5 14 M766.5 4.5 L767.5 11"/></g>
<text x="764.5" y="21" style="font-size:6.5px;font-weight:bold;fill:#303030">E</text>
<g class="cr" stroke="#606060" stroke-width="1" stroke-dasharray="1,1"><path d="M783 5.5 H796 M783 8.5 H796 M783 12.5 H796 M783 16.5 H792"/></g>
<text x="792.5" y="21" style="font-size:6.5px;font-weight:bold;fill:#303030">F</text>
<text x="817.5" y="17.5" text-anchor="middle" style="font-size:13.5px;fill:#484848;stroke:#484848;stroke-width:0.3px">A</text>
<rect class="cr" x="839.5" y="6.5" width="12" height="12" fill="none" stroke="#606060" stroke-dasharray="1,1"/>
<text x="845.6" y="16.8" text-anchor="middle" style="font-size:11.5px;fill:#505050;font-weight:bold">T</text>
<path d="M870 5.5 L873.4 9 L870 10 L866.6 9 Z M876.5 18.5 L873 15 L876.5 14 L880 15 Z" fill="#404040"/><path d="M869.5 12 L872 14.6 L876 9.8" fill="none" stroke="#404040" stroke-width="1.3"/>
<path d="M887.0 10.5 L893.0 10.5 L890.0 13.8 Z" fill="#000"/>
<rect class="cr" x="899" y="0" width="1" height="23" fill="#a0a0a0"/><rect class="cr" x="900" y="0" width="1" height="23" fill="#fff"/>
<rect class="cr" x="903" y="2" width="3" height="1" fill="#a8a8a8"/>
<rect class="cr" x="903" y="4" width="3" height="1" fill="#a8a8a8"/>
<rect class="cr" x="903" y="6" width="3" height="1" fill="#a8a8a8"/>
<rect class="cr" x="903" y="8" width="3" height="1" fill="#a8a8a8"/>
<rect class="cr" x="903" y="10" width="3" height="1" fill="#a8a8a8"/>
<rect class="cr" x="903" y="12" width="3" height="1" fill="#a8a8a8"/>
<rect class="cr" x="903" y="14" width="3" height="1" fill="#a8a8a8"/>
<rect class="cr" x="903" y="16" width="3" height="1" fill="#a8a8a8"/>
<rect class="cr" x="903" y="18" width="3" height="1" fill="#a8a8a8"/>
<rect class="cr" x="903" y="20" width="3" height="1" fill="#a8a8a8"/>
<rect class="cr" x="1077" y="0" width="25" height="22" fill="#f8f8f8"/>
<rect class="cr" x="1077" y="0" width="25" height="1" fill="#a0a0a0"/>
<rect class="cr" x="1077" y="0" width="1" height="22" fill="#a0a0a0"/>
<rect class="cr" x="1101" y="0" width="1" height="22" fill="#fff"/>
<rect class="cr" x="1077" y="21" width="25" height="1" fill="#fff"/>
<text x="921.0" y="16" text-anchor="middle" style="font-size:10px;fill:#404040">M1</text>
<text x="949.0" y="16" text-anchor="middle" style="font-size:10px;fill:#404040">M5</text>
<text x="977.5" y="16" text-anchor="middle" style="font-size:10px;fill:#404040">M15</text>
<text x="1005.5" y="16" text-anchor="middle" style="font-size:10px;fill:#404040">M30</text>
<text x="1033.5" y="16" text-anchor="middle" style="font-size:10px;fill:#404040">H1</text>
<text x="1061.0" y="16" text-anchor="middle" style="font-size:10px;fill:#404040">H4</text>
<text x="1089.3" y="16" text-anchor="middle" style="font-size:10px;fill:#404040">D1</text>
<text x="1118.3" y="16" text-anchor="middle" style="font-size:10px;fill:#404040">W1</text>
<text x="1145.2" y="16" text-anchor="middle" style="font-size:10px;fill:#404040">MN</text>
<rect class="cr" x="1160" y="0" width="1" height="23" fill="#a0a0a0"/><rect class="cr" x="1161" y="0" width="1" height="23" fill="#fff"/>
<g><path d="M1627.6 12.3 L1623 16.6" stroke="#2a58cc" stroke-width="2.6" stroke-linecap="round"/><path d="M1627 12.6 L1623.200 16.200" stroke="#7c9cec" stroke-width="0.8" stroke-dasharray="0.8,0.8"/><circle cx="1630.6" cy="9.300" r="4" fill="#f0f0f0" stroke="#2a5cd4" stroke-width="1.3"/></g>
<g stroke="#a4a4a4" stroke-width="0.9"><path d="M1665.2 13.6 L1666.6 15.8 L1662.8 13.9 Z" fill="#d0d0d0"/><ellipse cx="1663.5" cy="9.300" rx="6.3" ry="4.700" fill="#f6f6f6"/><path d="M1652.4 16.2 L1651.2 18.800 L1655.200 16.700 Z" fill="#d8d8d8"/><ellipse cx="1654.3" cy="13.300" rx="5" ry="3.700" fill="#f8f8f8"/></g><ellipse cx="1663.8" cy="10.600" rx="4.600" ry="2.600" fill="#e2e2e6" opacity="0.8"/><ellipse cx="1654.5" cy="14.300" rx="3.600" ry="2" fill="#e2e2e6" opacity="0.8"/>
</g>
</svg></body></html>
